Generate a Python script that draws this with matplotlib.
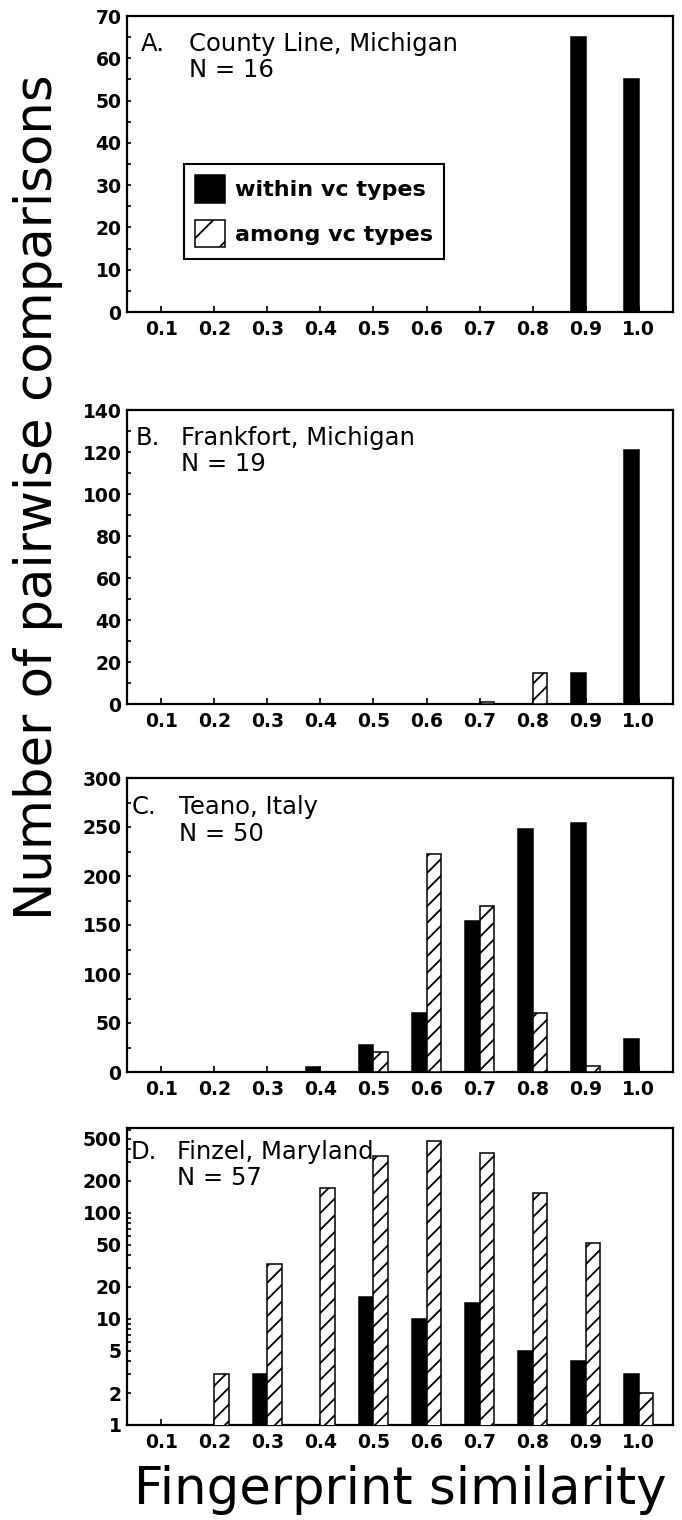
#!/usr/bin/env python3
# -*- coding: utf-8 -*-
"""Fingerprint similarity histograms for four populations, within vs among
vc types (panels A-D stacked vertically)."""
import numpy as np

import matplotlib
matplotlib.use("Agg")
import matplotlib.pyplot as plt
from matplotlib.patches import Patch
from matplotlib.ticker import FixedLocator, LogLocator, NullFormatter

plt.rcParams["font.family"] = ["DejaVu Sans"]
plt.rcParams["hatch.linewidth"] = 1.3

SIM = [0.1, 0.2, 0.3, 0.4, 0.5, 0.6, 0.7, 0.8, 0.9, 1.0]
SIM_LABELS = ["0.1", "0.2", "0.3", "0.4", "0.5", "0.6", "0.7", "0.8", "0.9", "1.0"]

PANEL_LETTERS = ["A.", "B.", "C.", "D."]
PANEL_SITES = ["County Line, Michigan", "Frankfort, Michigan",
               "Teano, Italy", "Finzel, Maryland"]
PANEL_N = ["N = 16", "N = 19", "N = 50", "N = 57"]

A_WITHIN = [0, 0, 0, 0, 0, 0, 0, 0, 65, 55]
A_AMONG = [0, 0, 0, 0, 0, 0, 0, 0, 0, 0]
B_WITHIN = [0, 0, 0, 0, 0, 0, 0, 0, 15, 121]
B_AMONG = [0, 0, 0, 0, 0, 0, 1, 15, 0, 0]
C_WITHIN = [0, 0, 0, 5, 28, 60, 154, 248, 254, 34]
C_AMONG = [0, 0, 0, 0, 20, 222, 169, 60, 6, 0]
D_WITHIN = [0, 0, 3, 0, 16, 10, 14, 5, 4, 3]
D_AMONG = [0, 3, 33, 171, 340, 470, 365, 154, 52, 2]

A_YTICKS = [0, 10, 20, 30, 40, 50, 60, 70]
B_YTICKS = [0, 20, 40, 60, 80, 100, 120, 140]
C_YTICKS = [0, 50, 100, 150, 200, 250, 300]
D_YTICKS = [1, 2, 5, 10, 20, 50, 100, 200, 500]

W = 0.027
FIG_W, FIG_H = 682, 1520


def px_axes(top, bottom, left=127, right=673):
    return [left / FIG_W, 1 - bottom / FIG_H, (right - left) / FIG_W,
            (bottom - top) / FIG_H]


def draw_bars(ax, within, among):
    x = np.array(SIM)
    w = np.array(within, dtype=float)
    a = np.array(among, dtype=float)
    mw, ma = w > 0, a > 0
    ax.bar(x[mw] - W / 2, w[mw], width=W, color="black", edgecolor="black",
           lw=1.1, zorder=3)
    ax.bar(x[ma] + W / 2, a[ma], width=W, color="white", edgecolor="black",
           hatch="//", lw=1.1, zorder=3)


def style(ax, yticks, log=False):
    ax.set_xlim(0.035, 1.065)
    ax.set_xticks(SIM)
    ax.set_xticklabels(SIM_LABELS)
    for s in ax.spines.values():
        s.set_linewidth(1.6)
    ax.tick_params(axis="x", direction="in", length=4, width=1.2, pad=6,
                   labelsize=13.5)
    ax.tick_params(axis="y", which="both", direction="in", width=1.2, pad=4,
                   labelsize=13.5)
    ax.tick_params(axis="y", which="major", length=3)
    ax.tick_params(axis="y", which="minor", length=3)
    if log:
        ax.set_yscale("log")
        ax.set_ylim(1, 630)
        ax.yaxis.set_major_locator(FixedLocator(yticks))
        ax.set_yticklabels([str(t) for t in yticks])
        ax.yaxis.set_minor_locator(LogLocator(subs=np.arange(2, 10)))
        ax.yaxis.set_minor_formatter(NullFormatter())
    else:
        ax.set_ylim(yticks[0], yticks[-1])
        ax.set_yticks(yticks)
        step = yticks[1] - yticks[0]
        ax.set_yticks(np.array(yticks[:-1]) + step / 2, minor=True)
    for lab in ax.get_xticklabels() + ax.get_yticklabels():
        lab.set_fontweight("bold")


def main():
    fig = plt.figure(figsize=(FIG_W / 100, FIG_H / 100), dpi=100)

    boxes = [(16, 312), (410, 704), (778, 1072), (1128, 1425)]
    data = [(A_WITHIN, A_AMONG, A_YTICKS), (B_WITHIN, B_AMONG, B_YTICKS),
            (C_WITHIN, C_AMONG, C_YTICKS), (D_WITHIN, D_AMONG, D_YTICKS)]
    letter_x = [0.026, 0.015, 0.008, 0.006]
    site_x = [0.114, 0.099, 0.095, 0.092]
    title_y = [0.905, 0.905, 0.900, 0.920]
    n_y = [0.818, 0.818, 0.810, 0.830]

    axes = []
    for i, ((top, bot), (wi, am, yt)) in enumerate(zip(boxes, data)):
        ax = fig.add_axes(px_axes(top, bot))
        draw_bars(ax, wi, am)
        style(ax, yt, log=(i == 3))
        ax.text(letter_x[i], title_y[i], PANEL_LETTERS[i],
                transform=ax.transAxes, fontsize=17.5, va="center", zorder=5)
        ax.text(site_x[i], title_y[i], PANEL_SITES[i],
                transform=ax.transAxes, fontsize=17.5, va="center", zorder=5)
        ax.text(site_x[i], n_y[i], PANEL_N[i],
                transform=ax.transAxes, fontsize=17.5, va="center", zorder=5)
        axes.append(ax)

    handles = [Patch(facecolor="black", edgecolor="black", lw=1.1),
               Patch(facecolor="white", edgecolor="black", hatch="/", lw=1.1)]
    leg = axes[0].legend(handles, ["within vc types", "among vc types"],
                         loc="upper left", bbox_to_anchor=(0.104, 0.5),
                         prop={"size": 16, "weight": "bold"},
                         handlelength=1.35, handleheight=1.55,
                         handletextpad=0.45, labelspacing=0.75,
                         borderpad=0.5, borderaxespad=0.0,
                         frameon=True, fancybox=False, edgecolor="black",
                         framealpha=1)
    leg.get_frame().set_linewidth(1.5)

    fig.text(38 / FIG_W, 1 - 497 / FIG_H, "Number of pairwise comparisons",
             rotation=90, fontsize=37, ha="center", va="center")
    fig.text(400 / FIG_W, 1 - 1490 / FIG_H, "Fingerprint similarity",
             fontsize=37, ha="center", va="center")

    fig.savefig("out.png", dpi=100)
    print("wrote out.png")


if __name__ == "__main__":
    main()
